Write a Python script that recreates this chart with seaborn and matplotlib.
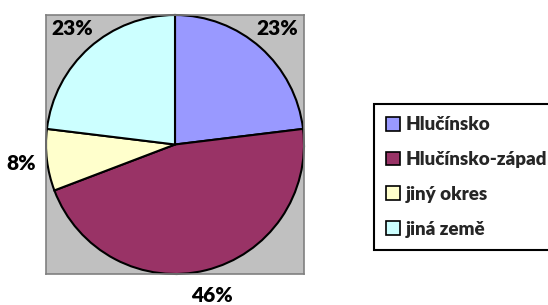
import matplotlib
matplotlib.use('Agg')
import matplotlib.pyplot as plt
import seaborn as sns

categories = ['Hlučínsko', 'Hlučínsko-západ', 'jiný okres', 'jiná země']
counts = [3, 6, 1, 3]
colors = ['#9999FF', '#993366', '#FFFFCC', '#CCFFFF']

sns.set_theme(style='white')
plt.rcParams['font.family'] = ['Lato', 'DejaVu Sans']

fig = plt.figure(figsize=(5.48, 3.05), dpi=100)
ax = fig.add_axes([46 / 548, 31 / 305, 258 / 548, 259 / 305])

wedges, texts, autotexts = ax.pie(
    counts, colors=colors, startangle=90, counterclock=False,
    autopct='%1.0f%%', pctdistance=1.2, radius=1,
    wedgeprops=dict(edgecolor='black', linewidth=1.5),
    textprops=dict(fontsize=15, fontweight='heavy', color='black'),
)
for t in autotexts:
    t.set_clip_on(False)

ax.set_frame_on(True)
ax.set_facecolor('#C0C0C0')
ax.set_xlim(-1.0, 1.0)
ax.set_ylim(-1.0, 1.0)
ax.set_aspect('auto')
ax.set_xticks([])
ax.set_yticks([])
for s in ax.spines.values():
    s.set_visible(True)
    s.set_color('#808080')
    s.set_linewidth(1.2)

leg = fig.legend(
    wedges, categories, loc='upper left',
    bbox_to_anchor=(374 / 548, 1 - 104 / 305),
    frameon=True, fancybox=False, edgecolor='black', framealpha=1,
    prop=dict(family='Lato', weight='heavy', size=13.5),
    handlelength=0.75, handleheight=0.75, handletextpad=0.3,
    labelspacing=0.95, borderpad=0.65, borderaxespad=0,
)
leg.get_frame().set_linewidth(1.5)
for h in leg.legend_handles:
    h.set_edgecolor('black')
    h.set_linewidth(1.2)

fig.savefig('out.png', dpi=100)
